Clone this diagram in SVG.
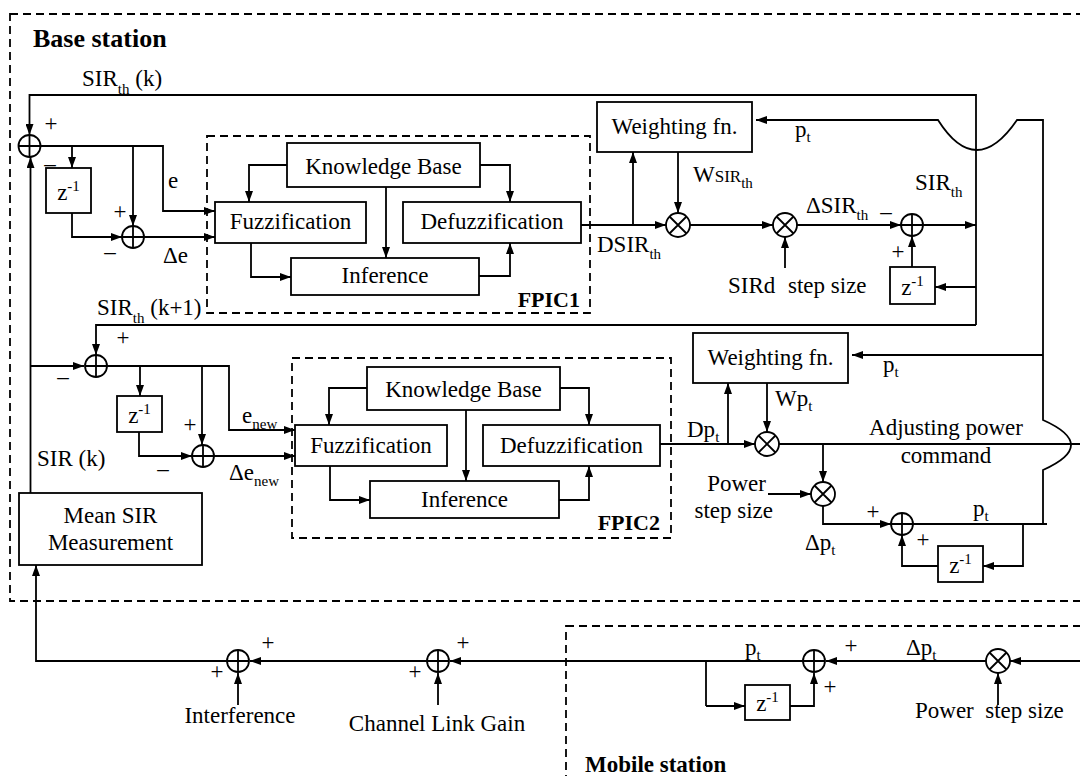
<svg xmlns="http://www.w3.org/2000/svg" xmlns:xlink="http://www.w3.org/1999/xlink" width="1080" height="776" viewBox="0 0 1080 776">
  <style>
    .ln { fill: none; stroke: #000; stroke-width: 1.8; }
    .arr { fill: none; stroke: #000; stroke-width: 1.8; marker-end: url(#ah); }
    .box { fill: none; stroke: #000; stroke-width: 1.8; }
    .dash { fill: none; stroke: #000; stroke-width: 1.8; stroke-dasharray: 8 5; }
    text { font-family: "Liberation Serif", "Times New Roman", serif; font-size: 23px; fill: #000; }
    .c { text-anchor: middle; }
    .e { text-anchor: end; }
    .b { font-weight: bold; }
    .sm { font-size: 15px; }
    .ttl { font-size: 26px; }
    .fp { font-size: 22px; }
    .mid { font-size: 17px; }
  </style>
  <defs>
    <marker id="ah" viewBox="0 0 11 8" refX="11" refY="4" markerWidth="11" markerHeight="8" markerUnits="userSpaceOnUse" orient="auto">
      <path d="M0,0 L11,4 L0,8 Z" fill="#000"/>
    </marker>
    <g id="sumSym">
      <circle r="11" fill="#fff" stroke="#000" stroke-width="1.8"/>
      <path d="M-11,0 H11 M0,-11 V11" stroke="#000" stroke-width="1.8"/>
    </g>
    <g id="mulSym">
      <circle r="12" fill="#fff" stroke="#000" stroke-width="1.8"/>
      <path d="M-8.5,-8.5 L8.5,8.5 M-8.5,8.5 L8.5,-8.5" stroke="#000" stroke-width="1.8"/>
    </g>
  </defs>

  <rect width="1080" height="776" fill="#fff"/>

  <!-- station frames -->
  <g id="base-station">
    <rect class="dash" x="10" y="14" width="1100" height="587"/>
    <text class="b ttl" x="33" y="47">Base station</text>
  </g>
  <g id="mobile-station">
    <rect class="dash" x="566" y="626" width="600" height="200"/>
    <text class="b" x="585" y="772">Mobile station</text>
  </g>

  <!-- fuzzy controller 1 -->
  <g id="fpic1">
    <rect class="dash" x="207" y="136" width="383" height="177"/>
    <text class="b e fp" x="580" y="307">FPIC1</text>
  </g>
  <g id="kb1"><rect class="box" x="287" y="143" width="193" height="44"/><text class="c" x="383.5" y="174">Knowledge Base</text></g>
  <g id="fuzz1"><rect class="box" x="215" y="202" width="151" height="41"/><text class="c" x="290.5" y="229">Fuzzification</text></g>
  <g id="defuzz1"><rect class="box" x="403" y="202" width="178" height="41"/><text class="c" x="492" y="229">Defuzzification</text></g>
  <g id="inf1"><rect class="box" x="291" y="258" width="188" height="37"/><text class="c" x="385" y="283">Inference</text></g>

  <!-- fuzzy controller 2 -->
  <g id="fpic2">
    <rect class="dash" x="292" y="358" width="379" height="180"/>
    <text class="b e fp" x="660" y="530">FPIC2</text>
  </g>
  <g id="kb2"><rect class="box" x="367" y="367" width="193" height="43"/><text class="c" x="463.5" y="397">Knowledge Base</text></g>
  <g id="fuzz2"><rect class="box" x="295" y="425" width="152" height="41"/><text class="c" x="371" y="453">Fuzzification</text></g>
  <g id="defuzz2"><rect class="box" x="483" y="425" width="177" height="41"/><text class="c" x="571.5" y="453">Defuzzification</text></g>
  <g id="inf2"><rect class="box" x="370" y="481" width="189" height="37"/><text class="c" x="464.5" y="507">Inference</text></g>

  <!-- weighting blocks -->
  <g id="wf1"><rect class="box" x="597" y="102" width="155" height="50"/><text class="c" x="674.5" y="134">Weighting fn.</text></g>
  <g id="wf2"><rect class="box" x="693" y="333" width="155" height="50"/><text class="c" x="770.5" y="365">Weighting fn.</text></g>

  <!-- measurement -->
  <g id="mean-sir">
    <rect class="box" x="19" y="493" width="183" height="72"/>
    <text class="c" x="110.5" y="523">Mean SIR</text>
    <text class="c" x="110.5" y="550">Measurement</text>
  </g>

  <!-- unit delays -->
  <g id="z1"><rect class="box" x="46" y="168" width="45" height="45"/><text class="c" x="68.5" y="200">z<tspan class="sm" dy="-9">-1</tspan></text></g>
  <g id="z2"><rect class="box" x="890" y="267" width="45" height="37"/><text class="c" x="912.5" y="295">z<tspan class="sm" dy="-9">-1</tspan></text></g>
  <g id="z3"><rect class="box" x="117" y="396" width="45" height="36"/><text class="c" x="139.5" y="423">z<tspan class="sm" dy="-9">-1</tspan></text></g>
  <g id="z4"><rect class="box" x="938" y="546" width="45" height="36"/><text class="c" x="960.5" y="573">z<tspan class="sm" dy="-9">-1</tspan></text></g>
  <g id="z5"><rect class="box" x="745" y="685" width="45" height="35"/><text class="c" x="767.5" y="711">z<tspan class="sm" dy="-9">-1</tspan></text></g>

  <!-- connectors -->
  <g id="connectors">
    <!-- SIR_th loop back to the error junctions -->
    <path class="arr" d="M976,325 V95 H29.5 V135"/>
    <path class="arr" d="M976,325 H96 V355"/>
    <path class="arr" d="M923,225 H976"/>
    <path class="arr" d="M976,287 H935"/>
    <!-- measured SIR feedback -->
    <path class="arr" d="M30.5,493 V157"/>
    <path class="arr" d="M30.5,366 H84"/>
    <!-- error / change of error, controller 1 -->
    <path class="arr" d="M40,146 H163 V211 H215"/>
    <path class="arr" d="M72,146 V168"/>
    <path class="arr" d="M133,146 V226"/>
    <path class="arr" d="M72,213 V237 H122"/>
    <path class="arr" d="M144,237 H215"/>
    <!-- inside controller 1 -->
    <path class="arr" d="M287,165 H249 V202"/>
    <path class="arr" d="M386,187 V258"/>
    <path class="arr" d="M480,165 H510 V202"/>
    <path class="arr" d="M251,243 V277 H291"/>
    <path class="arr" d="M479,276 H510 V243"/>
    <!-- threshold update path -->
    <path class="arr" d="M581,225 H666"/>
    <path class="arr" d="M633,225 V152"/>
    <path class="arr" d="M678,152 V213"/>
    <path class="arr" d="M690,225 H773"/>
    <path class="arr" d="M785,268 V237"/>
    <path class="arr" d="M797,225 H901"/>
    <path class="arr" d="M912,267 V236"/>
    <!-- error / change of error, controller 2 -->
    <path class="arr" d="M107,366 H229 V430 H295"/>
    <path class="arr" d="M140,366 V396"/>
    <path class="arr" d="M202,366 V445"/>
    <path class="arr" d="M139,432 V456 H192"/>
    <path class="arr" d="M214,456 H295"/>
    <!-- inside controller 2 -->
    <path class="arr" d="M367,388 H329 V425"/>
    <path class="arr" d="M466,410 V481"/>
    <path class="arr" d="M560,388 H589 V425"/>
    <path class="arr" d="M330,466 V500 H370"/>
    <path class="arr" d="M559,500 H589 V466"/>
    <!-- power command path -->
    <path class="arr" d="M660,444 H755"/>
    <path class="arr" d="M728,444 V383"/>
    <path class="arr" d="M767,383 V432"/>
    <path class="ln" d="M779,444 H1080"/>
    <path class="arr" d="M823,444 V482"/>
    <path class="arr" d="M768,494 H811"/>
    <path class="arr" d="M823,506 V524 H891"/>
    <path class="ln" d="M913,524 H1047"/>
    <path class="arr" d="M1023,524 V566 H983"/>
    <path class="arr" d="M938,566 H902 V535"/>
    <!-- p_t return line with crossing hops -->
    <path class="arr" d="M1043,524 V470 Q1099,445 1043,420 V120 H1017 Q976,180 938,120 H756"/>
    <path class="arr" d="M1043,355 H852"/>
    <!-- mobile side and channel -->
    <path class="arr" d="M1080,661 H1010"/>
    <path class="arr" d="M998,705 V673"/>
    <path class="arr" d="M986,661 H826"/>
    <path class="ln" d="M706,661 V706"/>
    <path class="arr" d="M706,706 H745"/>
    <path class="arr" d="M790,706 H814 V673"/>
    <path class="arr" d="M803,661 H450"/>
    <path class="arr" d="M438,705 V673"/>
    <path class="arr" d="M427,661 H250"/>
    <path class="arr" d="M238,705 V673"/>
    <path class="arr" d="M227,661 H36 V565"/>
  </g>

  <!-- summing junctions and multipliers -->
  <g id="sum1"><use xlink:href="#sumSym" x="29.5" y="146"/></g>
  <g id="sum-e1"><use xlink:href="#sumSym" x="133" y="237"/></g>
  <g id="mult1"><use xlink:href="#mulSym" x="678" y="225"/></g>
  <g id="mult2"><use xlink:href="#mulSym" x="785" y="225"/></g>
  <g id="sum3"><use xlink:href="#sumSym" x="912" y="225"/></g>
  <g id="sum2"><use xlink:href="#sumSym" x="96" y="366"/></g>
  <g id="sum-e2"><use xlink:href="#sumSym" x="203" y="456"/></g>
  <g id="mult3"><use xlink:href="#mulSym" x="767" y="444"/></g>
  <g id="mult4"><use xlink:href="#mulSym" x="823" y="494"/></g>
  <g id="sum4"><use xlink:href="#sumSym" x="902" y="524"/></g>
  <g id="sum5"><use xlink:href="#sumSym" x="238" y="661"/></g>
  <g id="sum6"><use xlink:href="#sumSym" x="438" y="661"/></g>
  <g id="sum7"><use xlink:href="#sumSym" x="814" y="661"/></g>
  <g id="mult5"><use xlink:href="#mulSym" x="998" y="661"/></g>

  <!-- signal labels -->
  <g id="labels">
    <text x="82" y="86">SIR<tspan class="sm" dy="8">th</tspan><tspan dy="-8"> (k)</tspan></text>
    <text class="c" x="51" y="131">+</text>
    <text class="c" x="50" y="171">–</text>
    <text x="168" y="188">e</text>
    <text class="c" x="120" y="219">+</text>
    <text class="c" x="110" y="259">–</text>
    <text x="163" y="263">Δe</text>
    <text x="597" y="252">DSIR<tspan class="sm" dy="7">th</tspan></text>
    <text x="693" y="182">W<tspan class="mid">SIR</tspan><tspan class="sm" dy="6">th</tspan></text>
    <text x="806" y="213">ΔSIR<tspan class="sm" dy="7">th</tspan></text>
    <text class="c" x="886" y="219">–</text>
    <text x="915" y="190">SIR<tspan class="sm" dy="7">th</tspan></text>
    <text class="c" x="898" y="259">+</text>
    <text x="728" y="293">SIRd</text>
    <text x="788" y="293">step size</text>
    <text x="795" y="137">p<tspan class="sm" dy="5">t</tspan></text>

    <text x="97" y="315">SIR<tspan class="sm" dy="8">th</tspan><tspan dy="-8"> (k+1)</tspan></text>
    <text class="c" x="123" y="345">+</text>
    <text class="c" x="63" y="384">–</text>
    <text x="242" y="423">e<tspan class="sm" dy="6">new</tspan></text>
    <text class="c" x="190" y="432">+</text>
    <text class="c" x="163" y="476">–</text>
    <text x="229" y="480">Δe<tspan class="sm" dy="6">new</tspan></text>
    <text x="37" y="466">SIR (k)</text>

    <text x="687" y="437">Dp<tspan class="sm" dy="5">t</tspan></text>
    <text x="775" y="406">Wp<tspan class="sm" dy="5">t</tspan></text>
    <text x="883" y="372">p<tspan class="sm" dy="5">t</tspan></text>
    <text class="c" x="946" y="435">Adjusting power</text>
    <text class="c" x="946" y="463">command</text>
    <text class="e" x="766" y="491">Power</text>
    <text class="e" x="773" y="518">step size</text>
    <text class="c" x="873" y="519">+</text>
    <text x="805" y="550">Δp<tspan class="sm" dy="5">t</tspan></text>
    <text x="973" y="516">p<tspan class="sm" dy="5">t</tspan></text>
    <text class="c" x="923" y="547">+</text>

    <text class="c" x="268" y="650">+</text>
    <text class="c" x="217" y="679">+</text>
    <text class="c" x="240" y="723">Interference</text>
    <text class="c" x="463" y="650">+</text>
    <text class="c" x="415" y="679">+</text>
    <text class="c" x="437" y="731">Channel Link Gain</text>
    <text x="745" y="655">p<tspan class="sm" dy="5">t</tspan></text>
    <text class="c" x="851" y="653">+</text>
    <text class="c" x="830" y="694">+</text>
    <text x="906" y="655">Δp<tspan class="sm" dy="5">t</tspan></text>
    <text x="915" y="718" xml:space="preserve">Power  step size</text>
  </g>
</svg>
